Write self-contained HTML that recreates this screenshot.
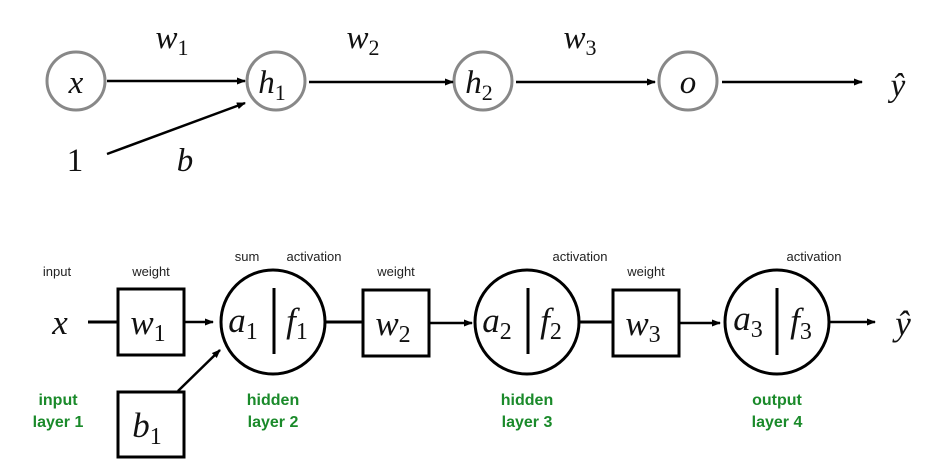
<!DOCTYPE html>
<html><head><meta charset="utf-8"><style>
html,body{margin:0;padding:0;background:#fff;}
svg{display:block;}
.m{font-family:"Liberation Serif",serif;font-style:italic;fill:#111;}
.s{font-family:"Liberation Serif",serif;fill:#111;}
.l{font-family:"Liberation Sans",sans-serif;font-size:13px;fill:#222;text-anchor:middle;}
.g{font-family:"Liberation Sans",sans-serif;font-size:16px;font-weight:bold;fill:#1a8a2a;text-anchor:middle;}
</style></head><body>
<svg width="946" height="473" viewBox="0 0 946 473">
<defs>
<marker id="a" markerWidth="9" markerHeight="7" refX="8" refY="3.5" orient="auto" markerUnits="userSpaceOnUse"><path d="M0,0 L9,3.5 L0,7 Z" fill="#000"/></marker>
</defs>
<!-- top -->
<g fill="none" stroke="#888" stroke-width="3">
<circle cx="76" cy="81" r="29"/><circle cx="276" cy="81" r="29"/><circle cx="483" cy="81" r="29"/><circle cx="688" cy="81" r="29"/>
</g>
<g stroke="#000" stroke-width="2.5" marker-end="url(#a)">
<line x1="107" y1="81" x2="245" y2="81"/>
<line x1="309" y1="82" x2="453" y2="82"/>
<line x1="516" y1="82" x2="655" y2="82"/>
<line x1="722" y1="82" x2="862" y2="82"/>
<line x1="107" y1="154" x2="245" y2="103"/>
</g>
<g class="m" font-size="33" text-anchor="middle">
<text x="76" y="93">x</text>
<text x="272" y="93">h<tspan font-size="22" font-style="normal" dy="7">1</tspan></text>
<text x="479" y="93">h<tspan font-size="22" font-style="normal" dy="7">2</tspan></text>
<text x="688" y="93">o</text>
<text x="898" y="96">ŷ</text>
<text x="172" y="48">w<tspan font-size="22" font-style="normal" dy="7">1</tspan></text>
<text x="363" y="48">w<tspan font-size="22" font-style="normal" dy="7">2</tspan></text>
<text x="580" y="48">w<tspan font-size="22" font-style="normal" dy="7">3</tspan></text>
<text x="185" y="171">b</text>
</g>
<text class="s" x="75" y="171" font-size="33" text-anchor="middle">1</text>
<!-- bottom -->
<g fill="none" stroke="#000" stroke-width="3">
<rect x="118" y="289" width="66" height="66"/>
<rect x="363" y="290" width="66" height="66"/>
<rect x="613" y="290" width="66" height="66"/>
<rect x="118" y="392" width="66" height="65"/>
<circle cx="273" cy="322" r="52"/><circle cx="527" cy="322" r="52"/><circle cx="777" cy="322" r="52"/>
<line x1="274" y1="288" x2="274" y2="354"/><line x1="528" y1="288" x2="528" y2="354"/><line x1="777" y1="288" x2="777" y2="355"/>
<line x1="88" y1="322" x2="118" y2="322"/>
<line x1="326" y1="322" x2="363" y2="322"/>
<line x1="580" y1="322" x2="613" y2="322"/>
</g>
<g stroke="#000" stroke-width="2.5" marker-end="url(#a)">
<line x1="184" y1="322" x2="213" y2="322"/>
<line x1="429" y1="323" x2="472" y2="323"/>
<line x1="679" y1="323" x2="720" y2="323"/>
<line x1="830" y1="322" x2="875" y2="322"/>
<line x1="178" y1="391" x2="220" y2="350"/>
</g>
<g class="m" font-size="35" text-anchor="middle">
<text x="60" y="334">x</text>
<text x="148" y="334">w<tspan font-size="24" font-style="normal" dy="7">1</tspan></text>
<text x="393" y="335">w<tspan font-size="24" font-style="normal" dy="7">2</tspan></text>
<text x="643" y="335">w<tspan font-size="24" font-style="normal" dy="7">3</tspan></text>
<text x="147" y="437">b<tspan font-size="24" font-style="normal" dy="7">1</tspan></text>
<text x="243" y="332">a<tspan font-size="24" font-style="normal" dy="7">1</tspan></text>
<text x="297" y="332">f<tspan font-size="24" font-style="normal" dy="7">1</tspan></text>
<text x="497" y="332">a<tspan font-size="24" font-style="normal" dy="7">2</tspan></text>
<text x="551" y="332">f<tspan font-size="24" font-style="normal" dy="7">2</tspan></text>
<text x="748" y="330">a<tspan font-size="24" font-style="normal" dy="7">3</tspan></text>
<text x="801" y="332">f<tspan font-size="24" font-style="normal" dy="7">3</tspan></text>
<text x="903" y="335">ŷ</text>
</g>
<text class="l" x="57" y="276">input</text>
<text class="l" x="151" y="276">weight</text>
<text class="l" x="247" y="261">sum</text>
<text class="l" x="314" y="261">activation</text>
<text class="l" x="396" y="276">weight</text>
<text class="l" x="580" y="261">activation</text>
<text class="l" x="646" y="276">weight</text>
<text class="l" x="814" y="261">activation</text>
<text class="g" x="58" y="405">input</text><text class="g" x="58" y="427">layer 1</text>
<text class="g" x="273" y="405">hidden</text><text class="g" x="273" y="427">layer 2</text>
<text class="g" x="527" y="405">hidden</text><text class="g" x="527" y="427">layer 3</text>
<text class="g" x="777" y="405">output</text><text class="g" x="777" y="427">layer 4</text>
</svg>
</body></html>
